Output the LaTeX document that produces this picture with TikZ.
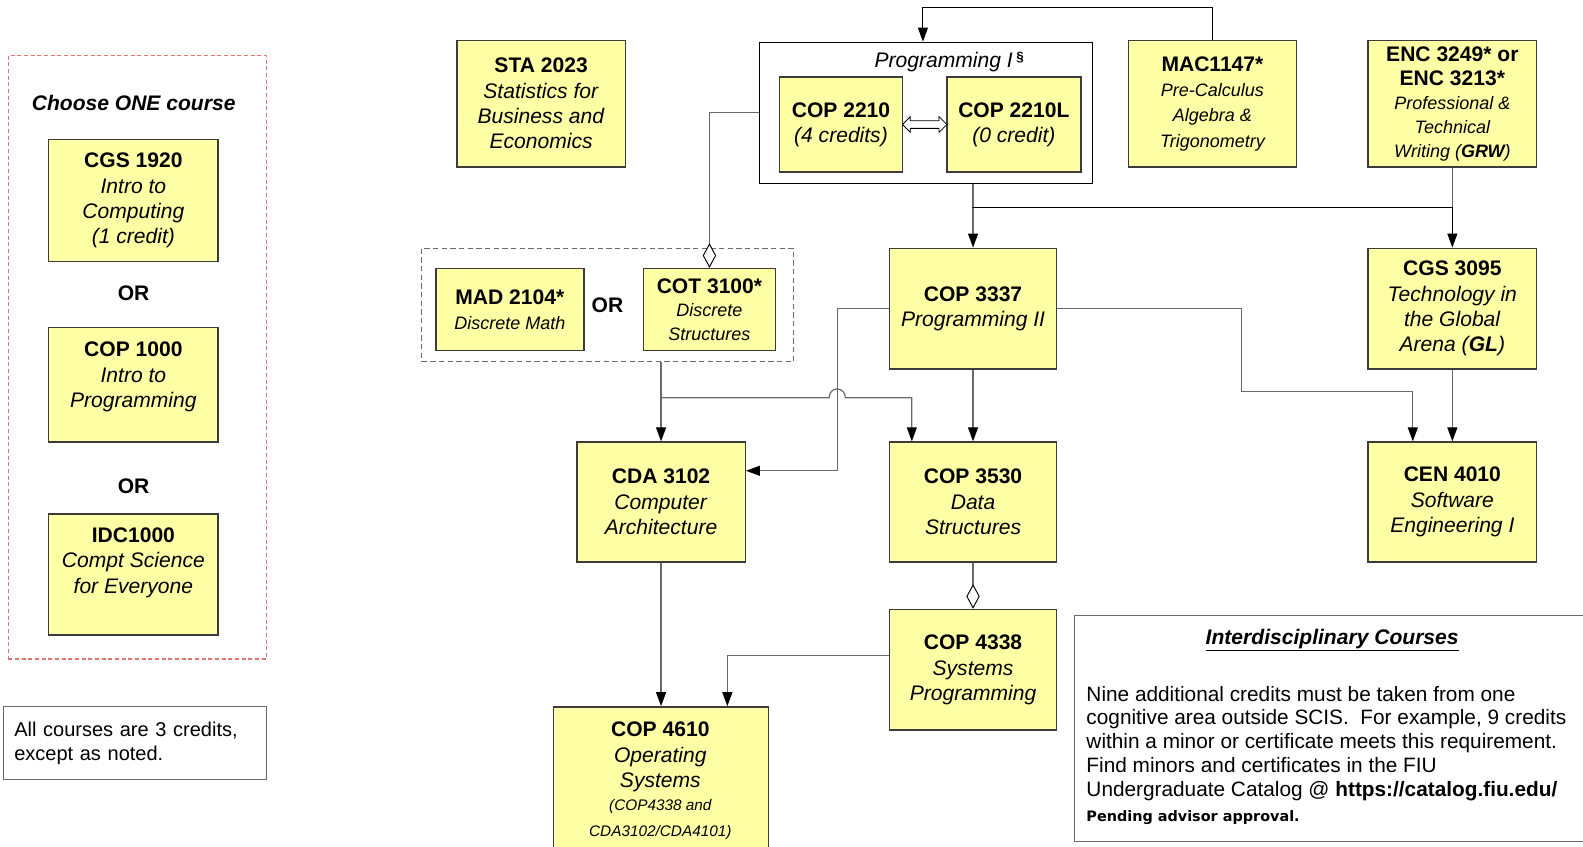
\documentclass[tikz,border=0pt]{standalone}
\usepackage{fontspec}
\setmainfont{Liberation Sans}
\newfontfamily\pendfont{DejaVu Sans}
\usetikzlibrary{arrows.meta,shapes.arrows,calc}
\definecolor{boxfill}{HTML}{FFFFA5}
\definecolor{boxline}{HTML}{3C3C3C}
\definecolor{connline}{HTML}{6A6A6A}
\definecolor{reddash}{HTML}{E07575}
\newcommand\fbig{\fontsize{15.8pt}{19pt}\selectfont}
\newcommand\fsm{\fontsize{13.5pt}{19pt}\selectfont\itshape}
\newcommand\ftn{\fontsize{11.5pt}{16pt}\selectfont\itshape}
\begin{document}
\begin{tikzpicture}
\useasboundingbox (0pt,0pt) rectangle (1187.25pt,-634.5pt);
\clip (0pt,0pt) rectangle (1187.25pt,-634.5pt);
\begin{scope}[shift={(1.2pt,0.75pt)},x=0.756pt,y=-0.7609pt,
  sz/.style 2 args={minimum width=#1*0.756pt,minimum height=#2*0.7609pt},
  course/.style={draw=boxline,fill=boxfill,line width=1.1pt,inner sep=0pt,align=center,font=\fbig},
  conn/.style={draw=connline,line width=0.9pt},
  blk/.style={draw=black,line width=0.65pt},
  arr/.style={-{Triangle[length=10.5pt,width=7.5pt,color=black]}},
  dia/.style={-{Diamond[length=18.5pt,width=10pt,color=black,fill=white,line width=0.7pt]}},
  ortext/.style={font=\fbig\bfseries}]

% ---------- left column ----------
\node[draw=reddash,dash pattern=on 3pt off 2pt,line width=0.9pt,sz={256}{595},anchor=north west] (choosebox) at (6,55) {};
\node[font=\fbig\bfseries\itshape] (choosetitle) at (131,102) {Choose ONE course};
\node[course,sz={168}{120},anchor=north west] (cgs1920) at (46,138) {\textbf{CGS 1920}\\\textit{Intro to}\\\textit{Computing}\\\textit{(1 credit)}};
\node[ortext] (or1) at (131,290) {OR};
\node[course,sz={168}{113},anchor=north west] (cop1000) at (46,323) {\textbf{COP 1000}\\\textit{Intro to}\\\textit{Programming}\\[-4pt]\mbox{}};
\node[ortext] (or2) at (131,480) {OR};
\node[course,sz={168}{119},anchor=north west] (idc) at (46,507) {\textbf{IDC1000}\\\textit{Compt Science}\\\textit{for Everyone}\\[2pt]\mbox{}};
\node[draw=connline,line width=0.9pt,sz={261}{72},anchor=north west,align=left,text width=180.7pt,inner xsep=8.3pt,inner ysep=0pt,font=\fontsize{15pt}{18.5pt}\selectfont] (note) at (1,697) {All courses are 3 credits,\\except as noted.};

% ---------- top row ----------
\node[course,sz={167}{125},anchor=north west] (sta) at (451,40) {\textbf{STA 2023}\\\textit{Statistics for}\\\textit{Business and}\\\textit{Economics}};
\node[draw=black,line width=0.9pt,sz={331}{139},anchor=north west] (prog) at (751,42) {};
\node[font=\fbig,anchor=base] (progtitle) at (940,68) {\textit{Programming I}\,\raisebox{0.55ex}{\fontsize{10pt}{10pt}\selectfont\bfseries §}};
\node[course,sz={122}{94},anchor=north west] (cop2210) at (771,76) {\textbf{COP 2210}\\\textit{(4 credits)}};
\node[course,sz={133}{94},anchor=north west] (cop2210l) at (937,76) {\textbf{COP 2210L}\\\textit{(0 credit)}};
\node[double arrow,draw=black,fill=white,line width=0.6pt,inner sep=2.6pt,minimum height=33.3pt,double arrow head extend=3pt,double arrow head indent=0pt] (coreq) at ($(cop2210.east)!0.5!(cop2210l.west)$) {};
\node[course,sz={167}{125},anchor=north west] (mac) at (1117,40) {\textbf{MAC1147*}\\{\fsm Pre-Calculus}\\{\fsm Algebra \&}\\{\fsm Trigonometry}};
\node[course,sz={167}{125},anchor=north west,font=\fontsize{15.8pt}{18pt}\selectfont] (enc) at (1355,40) {\textbf{ENC 3249* or}\\\textbf{ENC 3213*}\\{\fsm Professional \&}\\{\fsm Technical}\\{\fsm Writing (\textbf{GRW})}};

% ---------- middle ----------
\node[course,sz={166}{119},anchor=north west] (cop3337) at (880,245) {\textbf{COP 3337}\\\textit{Programming II}};
\node[course,sz={167}{119},anchor=north west] (cgs3095) at (1355,245) {\textbf{CGS 3095}\\\textit{Technology in}\\\textit{the Global}\\\textit{Arena (\textbf{GL})}};
\node[draw=connline,dash pattern=on 4pt off 2.5pt,line width=0.9pt,sz={369}{112},anchor=north west] (disc) at (416,245) {};
\node[course,sz={147}{81},anchor=north west] (mad) at (430,265) {\textbf{MAD 2104*}\\{\fsm Discrete Math}};
\node[ortext] (or3) at (601,302) {OR};
\node[course,sz={131}{81},anchor=north west,font=\fontsize{15.8pt}{17.5pt}\selectfont] (cot) at (636,265) {\textbf{COT 3100*}\\{\fsm Discrete}\\{\fsm Structures}};

% ---------- lower ----------
\node[course,sz={167}{118},anchor=north west] (cda) at (570,436) {\textbf{CDA 3102}\\\textit{Computer}\\\textit{Architecture}};
\node[course,sz={166}{118},anchor=north west] (cop3530) at (880,436) {\textbf{COP 3530}\\\textit{Data}\\\textit{Structures}};
\node[course,sz={167}{118},anchor=north west] (cen) at (1355,436) {\textbf{CEN 4010}\\\textit{Software}\\\textit{Engineering I}};
\node[course,sz={166}{119},anchor=north west] (cop4338) at (880,601) {\textbf{COP 4338}\\\textit{Systems}\\\textit{Programming}};
\node[course,sz={213}{200},anchor=north west] (cop4610) at (547,697) {};
\node[anchor=north,align=center,font=\fbig,inner sep=0pt] (cop4610txt) at (653.5,712.5) {\textbf{COP 4610}\\\textit{Operating}\\\textit{Systems}\\[-1.5pt]{\ftn (COP4338 and}\\{\ftn CDA3102/CDA4101)}};

% ---------- interdisciplinary ----------
\node[draw=connline,line width=1pt,sz={540}{223},anchor=north west] (inter) at (1064,607) {};
\node[font=\fbig\bfseries\itshape] (intertitle) at (1320,632) {\underline{Interdisciplinary Courses}};
\node[anchor=north west,align=left,inner sep=0pt,font=\fontsize{15.6pt}{17.8pt}\selectfont] (intertext) at (1076,677) {Nine additional credits must be taken from one\\cognitive area outside SCIS.\ \ For example, 9 credits\\within a minor or certificate meets this requirement.\\Find minors and certificates in the FIU\\Undergraduate Catalog @ \textbf{https://catalog.fiu.edu/}\\[1pt]{\pendfont\bfseries\fontsize{10.8pt}{12pt}\selectfont Pending advisor approval.}};

% ---------- connectors ----------
\coordinate (toploop) at (914,8);
\draw[blk,arr] (mac.north) |- (toploop) -- (toploop |- prog.north);

\coordinate (split1) at (963,205);
\draw[conn,arr] (cop3337.north |- prog.south) -- (cop3337.north);
\draw[conn] (enc.south) -- (enc.south |- split1);
\draw[blk,arr] (split1) -| (cgs3095.north);

\draw[conn,dia] (prog.west) -| (cot.north);

\coordinate (discsplit) at (653,393);
\coordinate (hopL) at (821,393);
\coordinate (hopR) at (837,393);
\coordinate (c3530in) at (903,393);
\draw[conn,arr] (cda.north |- disc.south) -- (cda.north);
\draw[conn,arr] (discsplit) -- (hopL) .. controls (821,381.5) and (837,381.5) .. (hopR) -- (c3530in) -- (c3530in |- cop3530.north);

\coordinate (cdabend) at (829,465);
\draw[conn,arr] (cop3337.west) -| (cdabend) -- (cdabend -| cda.east);

\draw[conn,arr] (cop3337.south) -- (cop3530.north);

\coordinate (cenb1) at (1230,387);
\coordinate (cenb2) at (1400,387);
\draw[conn,arr] (cop3337.east) -| (cenb1) -- (cenb2) -- (cenb2 |- cen.north);
\draw[conn,arr] (cgs3095.south) -- (cen.north);

\draw[conn,arr] (cda.south) -- (cop4610.north);
\draw[conn,dia] (cop3530.south) -- (cop4338.north);
\coordinate (os2) at (720,647);
\draw[conn,arr] (cop4338.west |- os2) -| (os2 |- cop4610.north);
\end{scope}
\end{tikzpicture}
\end{document}
